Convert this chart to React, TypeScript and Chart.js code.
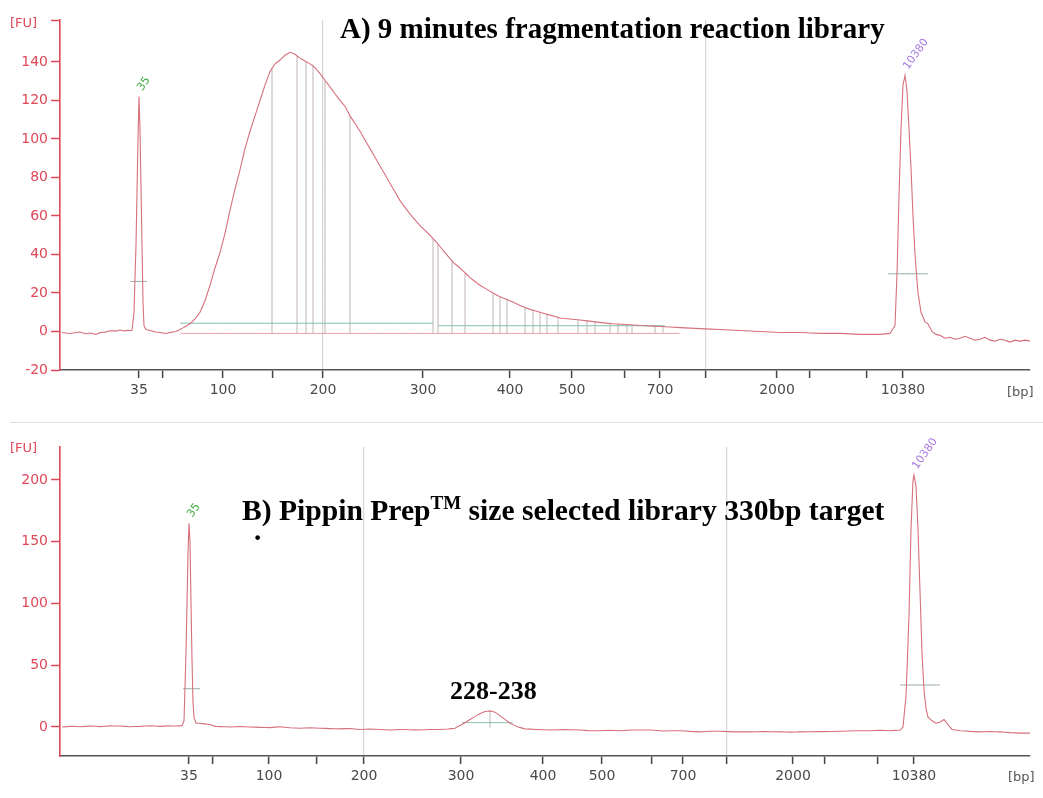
import React, { useEffect, useRef } from "react";
import { Chart, registerables } from "chart.js";
Chart.register(...registerables);

// ---------------- Panel A: 9 minutes fragmentation reaction library ----------------
// x = migration time (s), y = fluorescence [FU]
const aTickTimes = [23.95, 25.15, 28.15, 30.65, 33.15, 38.15, 42.5, 45.6, 48.25, 50.0, 52.3, 55.85, 57.5, 60.35, 62.15];
const aTickLabels = ["35", "", "100", "", "200", "300", "400", "500", "", "700", "", "2000", "", "", "10380"];
const aGridTimes = [33.15, 52.3];
const aYTicks = [-20, 0, 20, 40, 60, 80, 100, 120, 140];
const aTrace: [number, number][] = [
  [20.1, -0.5], [20.5, -1], [21.0, -0.3], [21.3, -1.2], [21.5, -0.8], [21.8, -1.5], [22.0, -0.6], [22.3, -0.2],
  [22.5, 0.4], [22.8, 0.2], [23.0, 0.8], [23.2, 0.3], [23.4, 0.6], [23.6, 0.5], [23.7, 10], [23.8, 45],
  [23.9, 100], [23.95, 122], [24.0, 105], [24.05, 75], [24.1, 45], [24.15, 15], [24.2, 3], [24.3, 1],
  [24.5, 0.5], [24.8, -0.3], [25.0, -0.5], [25.3, -1], [25.5, -0.6], [25.8, 0], [26.0, 1], [26.25, 2.5],
  [26.5, 4], [26.75, 6.5], [27.0, 10], [27.25, 16], [27.5, 24], [27.75, 33], [28.0, 41], [28.25, 51],
  [28.5, 63], [28.75, 74], [29.0, 84], [29.25, 95], [29.5, 104], [29.75, 112], [30.0, 120], [30.25, 128],
  [30.5, 135], [30.75, 139], [31.0, 141], [31.25, 143.5], [31.5, 145], [31.75, 144], [32.0, 142], [32.25, 140.5],
  [32.5, 139], [32.75, 137], [33.0, 134], [33.25, 130.5], [33.5, 127], [33.75, 123.5], [34.0, 120], [34.25, 117],
  [34.5, 112], [35.0, 104], [35.5, 95], [36.0, 86], [36.5, 77], [37.0, 68], [37.5, 61], [38.0, 55],
  [38.5, 50], [38.85, 46], [39.25, 41], [39.65, 36], [40.1, 32], [40.5, 28], [41.0, 24], [41.65, 20],
  [42.0, 18], [42.5, 16], [43.0, 13.5], [43.5, 11.5], [44.0, 10], [44.5, 8.5], [45.0, 7], [45.5, 6.5],
  [46.0, 6], [46.75, 5], [47.65, 4], [48.5, 3.5], [49.25, 3], [50.0, 2.6], [51.0, 2], [52.0, 1.5],
  [53.0, 1], [54.0, 0.5], [55.0, 0], [56.0, -0.5], [57.0, -0.5], [58.0, -1], [59.0, -1], [60.0, -1.5],
  [61.0, -1.5], [61.5, -1], [61.75, 3], [61.85, 30], [61.95, 70], [62.05, 105], [62.15, 128], [62.25, 133],
  [62.35, 125], [62.45, 105], [62.55, 85], [62.65, 60], [62.75, 40], [62.9, 20], [63.05, 10], [63.25, 5],
  [63.4, 4], [63.6, 0], [63.8, -1.5], [64.0, -2], [64.25, -3.5], [64.5, -3], [64.75, -4], [65.0, -3.5],
  [65.25, -2.5], [65.5, -3.5], [65.75, -4.5], [66.0, -4], [66.25, -3], [66.5, -4.5], [66.75, -5], [67.0, -4],
  [67.25, -4.5], [67.5, -5.5], [67.75, -4.5], [68.0, -5], [68.25, -4.5], [68.5, -5],
];
// peak-table marker lines (time, height)
const aMarkerTimes = [30.6, 31.85, 32.3, 32.65, 33.25, 34.5, 38.65, 38.9, 39.6, 40.25, 41.65, 42.0, 42.35, 43.25,
  43.65, 44.0, 44.35, 44.9, 45.9, 46.35, 46.75, 47.5, 47.9, 48.35, 48.6, 49.75, 50.15];
const aMarkerHeights = [137, 143, 140, 139, 130, 112, 48, 45, 37, 30, 20, 18, 17, 12.5,
  11, 10, 9, 7.5, 6, 6, 5, 4.3, 4, 3.8, 3.5, 2.8, 2.6];
const aMarkerBase = -1;
// region lines
const aRegionStart = [26.0, 38.9];
const aRegionEnd = [38.65, 50.25];
const aRegionLevel = [4.3, 3.0];
const aBaseStart = [26.0];
const aBaseEnd = [51.0];
const aBaseLevel = [-1];
// half-height markers of ladder peaks
const aHalfStart = [23.5, 61.4];
const aHalfEnd = [24.35, 63.4];
const aHalfLevel = [26, 30];
// peak labels
const aPeakNames = ["35", "10380"];
const aPeakTimes = [23.95, 62.25];
const aPeakValues = [122, 133];

// ---------------- Panel B: Pippin Prep size selected library ----------------
const bTickTimes = [26.45, 27.65, 30.45, 32.85, 35.2, 40.05, 44.15, 47.1, 49.6, 51.15, 53.35, 56.65, 58.25, 60.9, 62.7];
const bTickLabels = ["35", "", "100", "", "200", "300", "400", "500", "", "700", "", "2000", "", "", "10380"];
const bGridTimes = [35.2, 53.35];
const bYTicks = [0, 50, 100, 150, 200];
const bTrace: [number, number][] = [
  [20.1, 0], [20.6, 0.6], [21.0, 0.2], [21.5, 0.8], [22.0, 0.3], [22.5, 0.9], [23.0, 0.8], [23.5, 0.2],
  [24.0, 0.5], [24.5, 1.0], [25.0, 0.5], [25.4, 0.9], [25.75, 0.8], [26.1, 1], [26.2, 5], [26.3, 60],
  [26.4, 140], [26.45, 165], [26.5, 150], [26.55, 100], [26.6, 55], [26.65, 20], [26.7, 8], [26.8, 3],
  [27.0, 3], [27.25, 2.5], [27.5, 2], [27.75, 0.5], [28.0, 0.3], [28.5, 0], [29.0, 0.4], [29.5, 0],
  [30.0, -0.3], [30.5, -0.5], [31.0, 0.2], [31.5, -0.6], [32.0, -1], [32.5, -0.6], [33.0, -1], [33.5, -1.3],
  [34.0, -1.5], [34.5, -1.2], [35.0, -2], [35.5, -1.6], [36.0, -2], [36.5, -2.4], [37.0, -2], [37.5, -2.2],
  [38.0, -2.5], [38.5, -2.1], [39.0, -2], [39.4, -1.6], [39.75, -1], [40.1, 2], [40.5, 6], [40.9, 10],
  [41.25, 12.5], [41.5, 13], [41.75, 12], [42.1, 8], [42.5, 3], [42.9, 0], [43.25, -1.5], [43.8, -2],
  [44.5, -2.5], [45.2, -2.1], [46.0, -2.5], [46.5, -3], [47.0, -3], [47.5, -2.6], [48.0, -3], [48.8, -2.4],
  [49.5, -2.5], [50.2, -3.2], [51.0, -3], [51.5, -3.6], [52.0, -4], [52.5, -3.4], [53.0, -3.5], [53.8, -4],
  [54.5, -4], [55.2, -3.7], [56.0, -4], [56.5, -4.2], [57.0, -4], [58.0, -3.8], [59.0, -3.5], [59.8, -3.1],
  [60.5, -3], [61.0, -2.6], [61.5, -3], [62.0, -2.5], [62.15, 0], [62.3, 25], [62.45, 90], [62.55, 160],
  [62.65, 200], [62.7, 204], [62.8, 195], [62.9, 160], [63.0, 110], [63.1, 60], [63.2, 30], [63.3, 15],
  [63.4, 8], [63.6, 5], [63.8, 3], [64.0, 4], [64.2, 6], [64.35, 3], [64.6, -2], [65.0, -3],
  [65.5, -3.6], [66.0, -4], [66.5, -3.8], [67.0, -4], [67.5, -4.6], [68.0, -5], [68.5, -5],
];
const bMarkerTimes = [41.5];
const bMarkerHeights = [13];
const bMarkerBase = -1;
const bRegionStart = [40.1];
const bRegionEnd = [42.65];
const bRegionLevel = [3.5];
const bHalfStart = [26.15, 62.0];
const bHalfEnd = [27.0, 64.0];
const bHalfLevel = [31, 34];
const bPeakNames = ["35", "10380"];
const bPeakTimes = [26.45, 62.7];
const bPeakValues = [165, 204];

// ---------------- styling ----------------
const RED = "rgb(222,72,88)";
const TRACE = "rgb(214,112,124)";
const GREEN_LABEL = "rgb(60,168,60)";
const PURPLE_LABEL = "rgb(168,120,222)";

const peakLabelPlugin = {
  id: "peakLabels",
  afterDatasetsDraw(chart: any, _args: any, opts: any) {
    const { ctx } = chart;
    const xs = chart.scales.x;
    const ys = chart.scales.y;
    (opts.items || []).forEach((it: any) => {
      const px = xs.getPixelForValue(it.t);
      const py = ys.getPixelForValue(it.v);
      ctx.save();
      ctx.translate(px + 1, py - 7);
      ctx.rotate((-55 * Math.PI) / 180);
      ctx.font = '11px "DejaVu Sans"';
      ctx.fillStyle = it.color;
      ctx.textAlign = "left";
      ctx.textBaseline = "middle";
      ctx.fillText(it.text, 0, 0);
      ctx.restore();
    });
  },
};

function segs(starts: number[], ends: number[], levels: number[]) {
  const out: any[] = [];
  starts.forEach((s, i) => {
    out.push({ x: s, y: levels[i] }, { x: ends[i], y: levels[i] }, { x: ends[i], y: null });
  });
  return out;
}
function verticals(times: number[], heights: number[], base: number) {
  const out: any[] = [];
  times.forEach((t, i) => {
    out.push({ x: t, y: base }, { x: t, y: heights[i] }, { x: t, y: null });
  });
  return out;
}
function lineDs(data: any[], color: string, width = 1) {
  return {
    data,
    borderColor: color,
    borderWidth: width,
    pointRadius: 0,
    // a tiny tension keeps straight segments but disables Chart.js' per-pixel fast path
    tension: 0.0001,
    spanGaps: false,
    fill: false,
  };
}

function buildConfig(p: any) {
  return {
    type: "line",
    data: {
      datasets: [
        lineDs(p.trace.map((d: [number, number]) => ({ x: d[0], y: d[1] })), TRACE, 1.1),
        lineDs(p.half, "rgb(150,170,160)", 1),
        lineDs(p.region, "rgb(130,190,175)", 1),
        lineDs(p.base, "rgb(236,160,170)", 1),
        lineDs(p.markers, "rgba(185,170,172,0.9)", 1),
      ],
    },
    options: {
      animation: false,
      responsive: false,
      maintainAspectRatio: false,
      events: [],
      layout: { padding: { top: p.padTop, right: 13, left: 0, bottom: 0 } },
      scales: {
        x: {
          type: "linear",
          min: 20,
          max: 68.5,
          afterFit: (s: any) => {
            s.height = p.xAxisHeight;
          },
          afterBuildTicks: (s: any) => {
            s.ticks = p.tickTimes.map((v: number) => ({ value: v }));
          },
          ticks: {
            autoSkip: false,
            maxRotation: 0,
            minRotation: 0,
            color: "#4a4a4a",
            font: { family: "DejaVu Sans", size: 14 },
            padding: 4,
            callback: (_v: any, i: number) => p.tickLabels[i],
          },
          grid: {
            drawOnChartArea: true,
            color: (ctx: any) =>
              ctx.tick && p.gridTimes.includes(ctx.tick.value) ? "rgb(214,214,214)" : "rgba(0,0,0,0)",
            lineWidth: 1.2,
            tickLength: 8,
            tickColor: "#444",
            tickWidth: 1.5,
          },
          border: { color: "#555", width: 1.6 },
        },
        y: {
          type: "linear",
          min: p.yMin,
          max: p.yMax,
          afterFit: (s: any) => {
            s.width = 60;
          },
          afterBuildTicks: (s: any) => {
            const t = p.yTicks.map((v: number) => ({ value: v }));
            if (p.topTick) t.push({ value: p.yMax });
            s.ticks = t;
          },
          ticks: {
            color: RED,
            font: { family: "DejaVu Sans", size: 14 },
            padding: 3,
            callback: (v: any) => (p.yTicks.includes(v) ? String(v) : ""),
          },
          grid: {
            drawOnChartArea: false,
            tickLength: 9,
            tickColor: RED,
            tickWidth: 1.5,
          },
          border: { color: RED, width: 1.6 },
        },
      },
      plugins: {
        legend: { display: false },
        tooltip: { enabled: false },
        peakLabels: { items: p.peaks },
      },
    },
    plugins: [peakLabelPlugin],
  };
}

const configA = () =>
  buildConfig({
    trace: aTrace,
    half: segs(aHalfStart, aHalfEnd, aHalfLevel),
    region: segs(aRegionStart, aRegionEnd, aRegionLevel),
    base: segs(aBaseStart, aBaseEnd, aBaseLevel),
    markers: verticals(aMarkerTimes, aMarkerHeights, aMarkerBase),
    tickTimes: aTickTimes,
    tickLabels: aTickLabels,
    gridTimes: aGridTimes,
    yTicks: aYTicks,
    yMin: -20,
    yMax: 161.8,
    topTick: true,
    padTop: 20,
    xAxisHeight: 40,
    peaks: aPeakNames.map((n, i) => ({
      text: n,
      t: aPeakTimes[i],
      v: aPeakValues[i],
      color: i === 0 ? GREEN_LABEL : PURPLE_LABEL,
    })),
  });

const configB = () =>
  buildConfig({
    trace: bTrace,
    half: segs(bHalfStart, bHalfEnd, bHalfLevel),
    region: segs(bRegionStart, bRegionEnd, bRegionLevel),
    base: [],
    markers: verticals(bMarkerTimes, bMarkerHeights, bMarkerBase),
    tickTimes: bTickTimes,
    tickLabels: bTickLabels,
    gridTimes: bGridTimes,
    yTicks: bYTicks,
    yMin: -23.5,
    yMax: 226.7,
    topTick: false,
    padTop: 22,
    xAxisHeight: 42,
    peaks: bPeakNames.map((n, i) => ({
      text: n,
      t: bPeakTimes[i],
      v: bPeakValues[i],
      color: i === 0 ? GREEN_LABEL : PURPLE_LABEL,
    })),
  });

function ChartCanvas({ make, left, top, width, height }: any) {
  const ref = useRef<HTMLCanvasElement>(null);
  useEffect(() => {
    const c = new Chart(ref.current as HTMLCanvasElement, make() as any);
    return () => c.destroy();
  }, []);
  return (
    <canvas
      ref={ref}
      width={width}
      height={height}
      style={{ position: "absolute", left, top, width, height, display: "block" }}
    />
  );
}

const serifBold: React.CSSProperties = {
  position: "absolute",
  fontFamily: '"Liberation Serif", "Times New Roman", serif',
  fontWeight: "bold",
  color: "#000",
  whiteSpace: "nowrap",
};
const sansSmall: React.CSSProperties = {
  position: "absolute",
  fontFamily: '"DejaVu Sans", sans-serif',
  fontSize: 13,
  lineHeight: "16px",
  whiteSpace: "nowrap",
};

export default function App() {
  return (
    <div
      style={{
        position: "absolute",
        left: 0,
        top: 0,
        width: 1043,
        height: 798,
        overflow: "hidden",
        background: "#fff",
      }}
    >
      <ChartCanvas make={configA} left={0} top={0} width={1043} height={410} />
      <ChartCanvas make={configB} left={0} top={425} width={1043} height={373} />

      <div style={{ position: "absolute", left: 10, top: 422, width: 1033, height: 1, background: "#dedede" }} />

      <div style={{ ...sansSmall, left: 10, top: 15, color: RED }}>[FU]</div>
      <div style={{ ...sansSmall, left: 10, top: 440, color: RED }}>[FU]</div>
      <div style={{ ...sansSmall, left: 1007, top: 384, color: "#555" }}>[bp]</div>
      <div style={{ ...sansSmall, left: 1008, top: 769, color: "#555" }}>[bp]</div>

      <div style={{ ...serifBold, left: 340, top: 14, fontSize: 29, lineHeight: "29px" }}>
        A) 9 minutes fragmentation reaction library
      </div>
      <div style={{ ...serifBold, left: 242, top: 496, fontSize: 29.6, lineHeight: "29px" }}>
        B) Pippin Prep
        <span style={{ fontSize: 19, position: "relative", top: -11 }}>TM</span> size selected library 330bp target
      </div>
      <div style={{ ...serifBold, left: 254, top: 516, fontSize: 29, lineHeight: "29px" }}>.</div>
      <div style={{ ...serifBold, left: 450, top: 678, fontSize: 26, lineHeight: "26px" }}>228-238</div>
    </div>
  );
}
